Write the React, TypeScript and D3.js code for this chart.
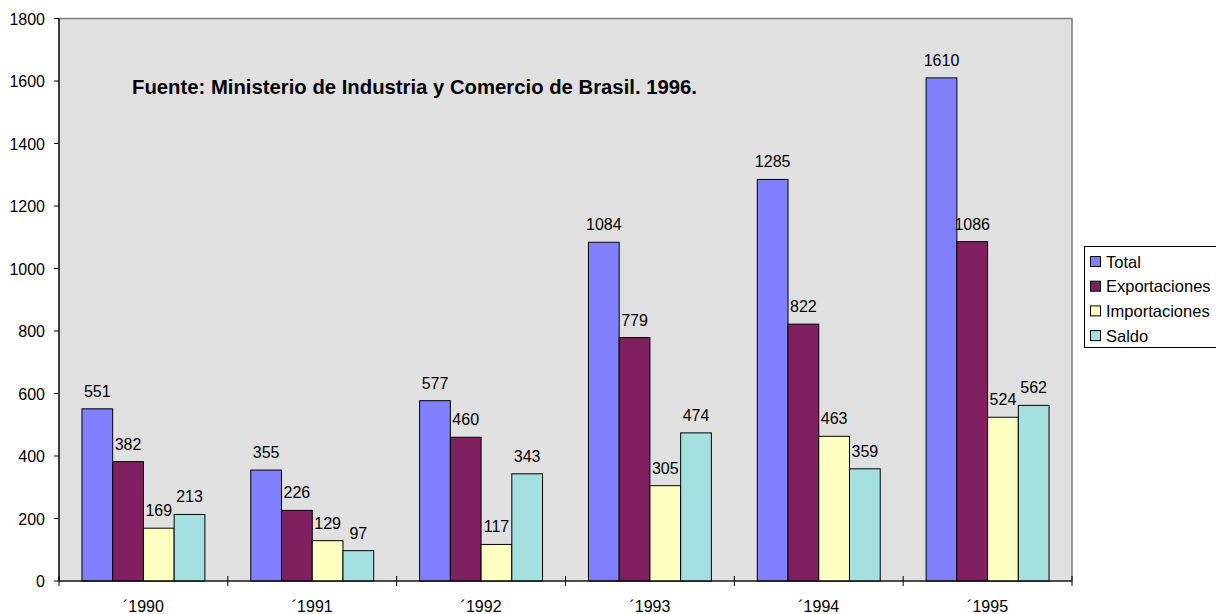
import React from "react";
import * as d3 from "d3";

const years = ["´1990", "´1991", "´1992", "´1993", "´1994", "´1995"];
const seriesNames = ["Total", "Exportaciones", "Importaciones", "Saldo"];
const total = [551, 355, 577, 1084, 1285, 1610];
const exportaciones = [382, 226, 460, 779, 822, 1086];
const importaciones = [169, 129, 117, 305, 463, 524];
const saldo = [213, 97, 343, 474, 359, 562];
const yTicks = [0, 200, 400, 600, 800, 1000, 1200, 1400, 1600, 1800];
const colors = ["#8080FF", "#802060", "#FFFFC2", "#A4E0E0"];

const seriesValues = [total, exportaciones, importaciones, saldo];

export default function App() {
  const W = 1216, H = 614;
  const left = 59, right = 1072, top = 18.5, bottom = 581;
  const x = d3.scaleBand<string>().domain(years).range([left, right]).paddingInner(0).paddingOuter(0);
  const inner = d3.scaleBand<string>().domain(seriesNames).range([0, x.bandwidth()]).paddingOuter(0.747).paddingInner(0);
  const y = d3.scaleLinear().domain([0, 1800]).range([bottom, top]);
  const font = "Liberation Sans, Arial, sans-serif";
  const fs = 16;

  return (
    <svg width={W} height={H} style={{ position: "absolute", left: 0, top: 0 }} fontFamily={font}>
      <rect x={0} y={0} width={W} height={H} fill="#fff" />
      <rect x={left} y={top} width={right - left} height={bottom - top} fill="#E0E0E0" stroke="#808080" strokeWidth={1.5} />
      {years.map((yr, i) =>
        seriesNames.map((s, j) => {
          const v = seriesValues[j][i];
          const bx = (x(yr) as number) + (inner(s) as number);
          const bw = inner.bandwidth();
          return (
            <g key={yr + s}>
              <rect x={bx} y={y(v)} width={bw} height={bottom - y(v)} fill={colors[j]} stroke="#000" strokeWidth={1} />
              <text x={bx + bw / 2} y={y(v) - 12} textAnchor="middle" fontSize={fs} fill="#000">{v}</text>
            </g>
          );
        })
      )}
      <line x1={left} x2={left} y1={top} y2={bottom} stroke="#000" strokeWidth={1.2} />
      <line x1={left} x2={right} y1={bottom} y2={bottom} stroke="#000" strokeWidth={1.2} />
      {yTicks.map((t) => (
        <g key={t}>
          <line x1={left - 5} x2={left} y1={y(t)} y2={y(t)} stroke="#000" />
          <text x={45} y={y(t) + 6} textAnchor="end" fontSize={fs} fill="#000">{t}</text>
        </g>
      ))}
      {years.map((yr) => (
        <line key={"t" + yr} x1={(x(yr) as number)} x2={(x(yr) as number)} y1={bottom - 5} y2={bottom + 5} stroke="#000" />
      ))}
      <line x1={right} x2={right} y1={bottom - 5} y2={bottom + 5} stroke="#000" />
      {years.map((yr) => (
        <text key={"l" + yr} x={(x(yr) as number) + x.bandwidth() / 2} y={bottom + 31} textAnchor="middle" fontSize={fs} fill="#000">{yr}</text>
      ))}
      <text x={132} y={94} fontSize={19.5} fontWeight="bold" fill="#000" textLength={565} lengthAdjust="spacingAndGlyphs">Fuente: Ministerio de Industria y Comercio de Brasil. 1996.</text>
      <g>
        <rect x={1084.5} y={246.5} width={140} height={101} fill="#fff" stroke="#000" />
        {seriesNames.map((s, j) => (
          <g key={"lg" + s}>
            <rect x={1090.5} y={256.5 + j * 24.7} width={10} height={10} fill={colors[j]} stroke="#000" />
            <text x={1106} y={267.5 + j * 24.7} fontSize={16.5} fill="#000">{s}</text>
          </g>
        ))}
      </g>
    </svg>
  );
}
